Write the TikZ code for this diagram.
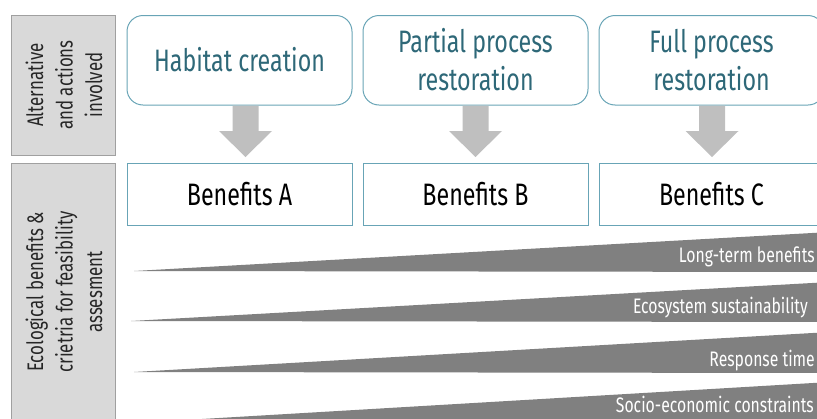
\documentclass[tikz,border=0pt]{standalone}
\usepackage{fontspec}
\setmainfont{Fira Sans}[FakeStretch=0.75]
\definecolor{tealborder}{RGB}{104,164,182}
\definecolor{tealtext}{RGB}{46,104,120}
\definecolor{labelfill}{RGB}{217,217,217}
\definecolor{labelborder}{RGB}{160,160,160}
\definecolor{arrowgray}{RGB}{191,191,191}
\definecolor{wedgegray}{RGB}{128,128,128}
\definecolor{labeltext}{RGB}{38,38,38}
\tikzset{
  sidebox/.style={draw=labelborder, fill=labelfill, line width=1pt},
  sidetext/.style={text=labeltext, font=\fontsize{22.5}{29.5}\selectfont, align=center, rotate=90},
  altbox/.style={draw=tealborder, line width=1pt, rounded corners=16pt},
  alttext/.style={text=tealtext, font=\fontsize{31}{38}\selectfont, align=center},
  benbox/.style={draw=tealborder, line width=1pt},
  bentext/.style={text=black, font=\fontsize{31}{36}\selectfont},
  downarrow/.style={fill=arrowgray},
  wedge/.style={fill=wedgegray},
  wedgetext/.style={text=white, font=\fontsize{21}{24}\selectfont, anchor=base east, inner sep=0pt}
}
\begin{document}
\begin{tikzpicture}[x=1pt,y=-1pt]
\useasboundingbox (0,0) rectangle (817,418);
\begin{scope}
\clip (0,0) rectangle (817,418);
% side label boxes
\draw[sidebox] (11.5,15.5) rectangle (115.5,155);
\node[sidetext] (s1) at (64,85) {Alternative\\and actions\\involved};
\draw[sidebox] (11.5,163.5) rectangle (115.5,430);
\node[sidetext] (s2) at (64,292) {Ecological benefits \&\\crietria for feasibility\\assesment};
% alternative boxes
\draw[altbox] (127,15.5) rectangle (352,105);
\node[alttext] (a1) at (239.5,60) {Habitat creation};
\draw[altbox] (363,15.5) rectangle (588,105);
\node[alttext] (a2) at (475.5,60) {Partial process\\restoration};
\draw[altbox] (599,15.5) rectangle (824,105);
\node[alttext] (a3) at (711.5,60) {Full process\\restoration};
% benefit boxes
\draw[benbox] (127,163.5) rectangle (352,225);
\node[bentext] (b1) at (239.5,194) {Benefits A};
\draw[benbox] (363,163.5) rectangle (588,225);
\node[bentext] (b2) at (475.5,194) {Benefits B};
\draw[benbox] (599,163.5) rectangle (824,225);
\node[bentext] (b3) at (711.5,194) {Benefits C};
% arrows
\foreach \cx in {245.5,475.5,712}{
  \fill[downarrow] (\cx-13,105.5) -- (\cx+13,105.5) -- (\cx+13,131) -- (\cx+26.5,131)
     -- (\cx,157) -- (\cx-26.5,131) -- (\cx-13,131) -- cycle;
}
% wedges
\fill[wedge] (134,271) -- (830,232) -- (830,272) -- cycle;
\fill[wedge] (131,321) -- (830,282) -- (830,322) -- cycle;
\fill[wedge] (134,372) -- (830,332) -- (830,373) -- cycle;
\fill[wedge] (134,423) -- (830,382) -- (830,425) -- cycle;
\node[wedgetext] (w1) at (815,262) {Long-term benefits};
\node[wedgetext] (w2) at (808,313) {Ecosystem sustainability};
\node[wedgetext] (w3) at (815,366) {Response time};
\node[wedgetext] (w4) at (814,412) {Socio-economic constraints};
\end{scope}
\end{tikzpicture}
\end{document}
